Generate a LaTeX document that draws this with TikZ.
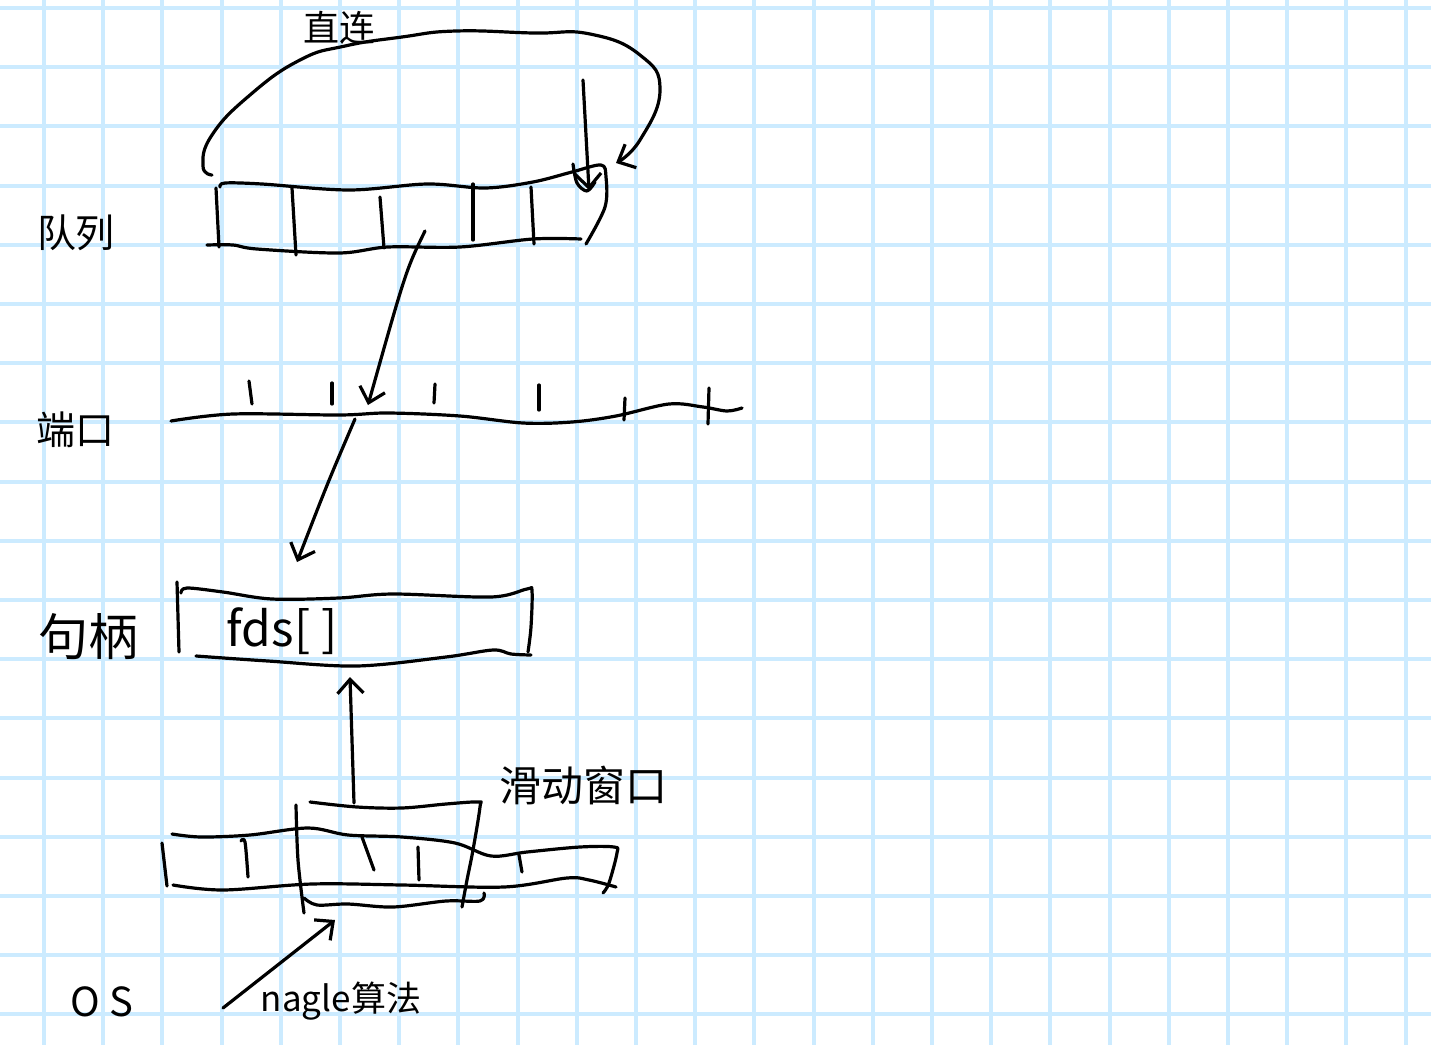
\documentclass[tikz,border=0pt]{standalone}
\usepackage{fontspec}
\setmainfont{Noto Sans CJK SC}
\usetikzlibrary{arrows.meta, positioning}
\definecolor{gridblue}{HTML}{CCEBFF}
\tikzset{
  gridline/.style={gridblue, line width=2pt},
  pen/.style={black, line width=1.6pt, line cap=round, line join=round},
  penarrow/.style={pen, -{Straight Barb[length=7pt, width=13pt, line width=1.6pt]}},
  wob/.style={smooth, tension=0.55},
  note/.style={inner sep=0pt, font=\fontsize{#1}{#1}\selectfont},
}

\begin{document}
\begin{tikzpicture}[x=0.5pt, y=-0.5pt]
  \useasboundingbox (0,0) rectangle (1431,1045);
  \fill[white] (0,0) rectangle (1431,1045);

  % paper
  \foreach \i in {0,...,23} \draw[gridline] ({44+59.2*\i},0) -- ({44+59.2*\i},1045);
  \foreach \i in {0,...,17} \draw[gridline] (0,{8+59.2*\i}) -- (1431,{8+59.2*\i});

  % labels
  \node[note=18] (direct) at (339,28) {直连};
  \node[note=19.5] (queue) at (76,233) {队列};
  \node[note=19.5] (port) at (75,430) {端口};
  \node[note=25] (handle) at (89,637) {句柄};
  \node[note=24] (fds) at (282,631) {fds[ ]};
  \node[note=21] (window) at (583,785) {滑动窗口};
  \node[note=20] (os) at (102,1002) {O S};
  \node[note=17.5] (nagle) at (341,1001) {nagle算法};

  % queue
  \draw[pen] plot[wob] coordinates {(220,187) (225,183) (262,184) (349,190) (427,184) (485,188) (533,182) (572,172) (601,165) (606,177) (605,207) (586,244)};
  \draw[pen] (216,188) -- (219,247);
  \draw[pen] plot[wob] coordinates {(207,245) (233,245) (257,249) (339,253) (388,247) (460,247) (533,239) (581,239)};
  \draw[pen] (292,188) -- (296,255);
  \draw[pen] (380,197) -- (384,248);
  \draw[pen] (473,184) -- (473,240);
  \draw[pen] (531,187) -- (534,244);
  \draw[pen] plot[wob] coordinates {(573,164) (577,183) (587,191) (595,182)};

  % loop and pointer on the queue
  \draw[penarrow] plot[smooth, tension=0.8] coordinates {(212,175) (203,166) (212,135) (250,95) (300,60) (345,46) (402,37) (456,31) (533,33) (590,34) (640,55) (660,90) (640,140) (616,163)};
  \coordinate (pointer) at (583,80);
  \coordinate (tail) at (589,190);
  \draw[penarrow] (pointer) -- (tail);

  % port
  \draw[pen] plot[wob] coordinates {(171,421) (233,414) (339,415) (388,413) (460,416) (523,423) (572,422) (616,416) (669,404) (703,407) (727,411) (742,408)};
  \draw[pen] (249,381) -- (252,404);
  \draw[pen] (332,383) -- (332,404);
  \draw[pen] (435,384) -- (434,403);
  \draw[pen] (539,385) -- (539,410);
  \draw[pen] (625,398) -- (624,420);
  \draw[pen] (709,388) -- (708,424);

  \coordinate (queueout) at (425,231);
  \coordinate (portin) at (368,405);
  \coordinate (portout) at (355,419);
  \coordinate (handlein) at (297,562);
  \draw[penarrow] (queueout) .. controls (406,270) .. (portin);
  \draw[penarrow] (portout) .. controls (328,482) .. (handlein);

  % handle
  \draw[pen] (177,582) -- (179,652);
  \draw[pen] plot[wob] coordinates {(181,593) (187,588) (223,592) (272,599) (339,598) (393,594) (491,597) (527,589) (532,591) (531,627) (528,652)};
  \draw[pen] plot[wob] coordinates {(196,656) (268,661) (357,666) (446,657) (493,650) (511,654) (531,655)};

  % sliding window
  \draw[pen] plot[wob] coordinates {(310,802) (357,807) (402,808) (446,804) (478,802) (480,807) (473,850) (467,880) (462,907)};
  \draw[pen] plot[wob] coordinates {(296,805) (298,860) (304,913)};
  \draw[pen] plot[wob] coordinates {(304,898) (317,905) (348,904) (393,907) (446,901) (480,901) (484,893)};

  % send buffer
  \draw[pen] plot[wob] coordinates {(172,834) (201,837) (250,835) (308,828) (348,835) (402,837) (455,843) (491,856) (527,852) (580,847) (614,847) (617,853) (609,883) (603,893)};
  \draw[pen] (162,843) -- (167,886);
  \draw[pen] plot[wob] coordinates {(173,885) (223,890) (312,884) (402,885) (504,887) (567,878) (589,880) (616,887)};
  \draw[pen] plot[wob] coordinates {(241,841) (245,842) (248,877)};
  \draw[pen] (362,837) -- (374,870);
  \draw[pen] (418,847) -- (419,880);
  \draw[pen] (519,855) -- (522,872);

  \coordinate (windowout) at (354,803);
  \coordinate (handleup) at (350,677);
  \coordinate (nagleout) at (223,1008);
  \coordinate (windowin) at (335,920);
  \draw[penarrow] (windowout) -- (handleup);
  \draw[penarrow] (nagleout) -- (windowin);
\end{tikzpicture}
\end{document}
